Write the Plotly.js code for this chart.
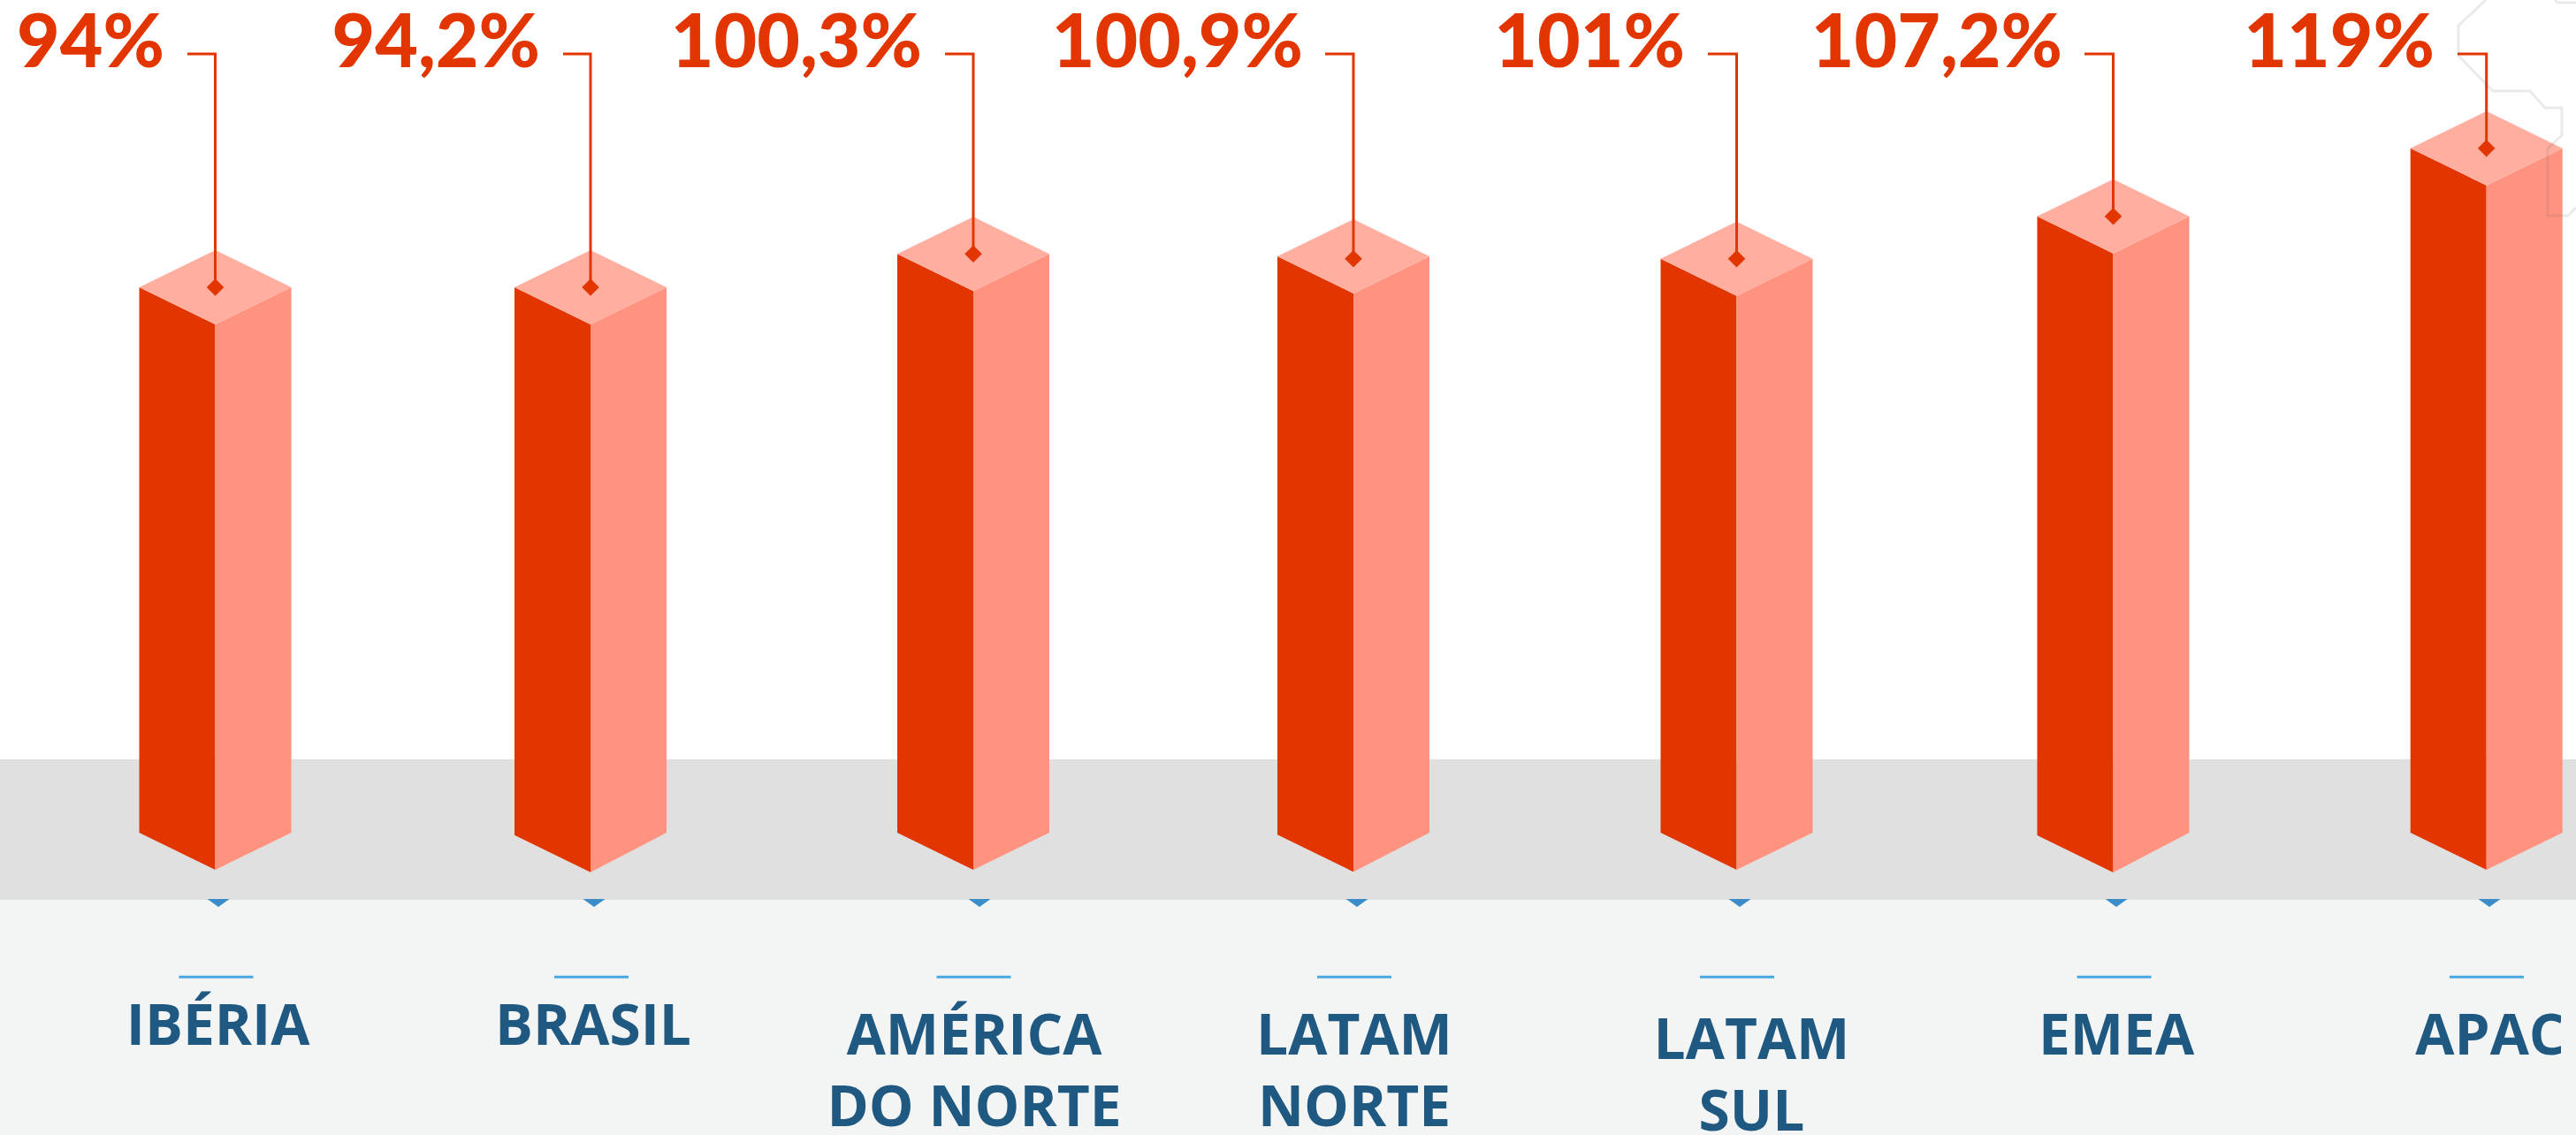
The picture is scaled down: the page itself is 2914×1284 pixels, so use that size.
<!DOCTYPE html>
<html><head><meta charset="utf-8">
<script src="https://cdn.plot.ly/plotly-3.0.1.min.js"></script>
<style>html,body{margin:0;padding:0;background:#fff}#c{width:2914px;height:1284px}</style>
</head><body><div id="c"></div>
<script>
// ---- data ----
const categories = ["IBÉRIA","BRASIL","AMÉRICA<br>DO NORTE","LATAM<br>NORTE","LATAM<br>SUL","EMEA","APAC"];
const values = [94, 94.2, 100.3, 100.9, 101, 107.2, 119];
// the reference's columns are not quite to scale: heights as drawn, in the same % units
const drawnHeights = [94, 94, 99.74, 99.33, 98.92, 106.23, 117.95];
const drawnBases = [0, -0.4, 0, -0.35, 0, -0.45, 0];
const markerHeights = [94, 94, 99.74, 98.92, 98.92, 106.23, 117.95];

// ---- geometry of the picture (pixel layout) ----
const W = 2914, H = 1284, baselinePx = 942, pxPerUnit = 6.564;
const py = p => (baselinePx - p) / pxPerUnit;   // pixel row -> axis value
const dy = 42 / pxPerUnit, hw = 86;
const centres = [243.5, 668, 1101, 1531, 1964.5, 2390.5, 2812.7];
const leaderStart = [212, 637, 1069, 1499, 1932, 2358, 2780];
const valueRight = [186, 611, 1043, 1474, 1906, 2333, 2754];
const triCentres = [247, 672, 1108, 1535, 1968, 2394, 2816];
const ruleCentres = [244.5, 669, 1101.5, 1532, 1965, 2391.5, 2813];
const labelCentres = [246.5, 671, 1102, 1532, 1981.5, 2394, 2817];
const labelBaselines = [1184, 1184, 1195, 1195, 1200, 1195, 1195];
const lineStep = 81;

const fmt = v => String(v).replace('.', ',') + '%';
const poly = (list) => { const x=[], y=[]; list.forEach(pts=>{pts.forEach(q=>{x.push(q[0]);y.push(q[1]);}); x.push(null); y.push(null);}); return {x,y}; };

const left = poly(centres.map((c,i)=>[[c-hw,drawnHeights[i]],[c,drawnHeights[i]-dy],[c,drawnBases[i]-dy],[c-hw,drawnBases[i]],[c-hw,drawnHeights[i]]]));
const right = poly(centres.map((c,i)=>[[c,drawnHeights[i]-dy],[c+hw,drawnHeights[i]],[c+hw,0],[c,drawnBases[i]-dy],[c,drawnHeights[i]-dy]]));
const top_ = poly(centres.map((c,i)=>[[c-hw,drawnHeights[i]],[c,drawnHeights[i]+dy],[c+hw,drawnHeights[i]],[c,drawnHeights[i]-dy],[c-hw,drawnHeights[i]]]));
const tris = poly(triCentres.map(c=>[[c-12.5,py(1017)],[c+12.5,py(1017)],[c,py(1026)],[c-12.5,py(1017)]]));
const rules = poly(ruleCentres.map(c=>[[c-42,py(1105.3)],[c+42,py(1105.3)]]));
const leaders = poly(centres.map((c,i)=>[[leaderStart[i],py(61)],[c,py(61)],[c,markerHeights[i]]]));

const face = (g,color)=>({type:'scatter',mode:'lines',x:g.x,y:g.y,fill:'toself',fillcolor:color,line:{width:0,color:color},hoverinfo:'skip',showlegend:false,connectgaps:false});

const lx=[], ly=[], lt=[];
categories.forEach((c,i)=>c.split('<br>').forEach((s,j)=>{lx.push(labelCentres[i]);ly.push(py(labelBaselines[i]+lineStep*j-18.5));lt.push(s);}));

const traces = [
  face(left,'#E33500'), face(right,'#FF9380'), face(top_,'#FFAEA0'), face(tris,'#3A8DC8'),
  {type:'scatter',mode:'lines',x:rules.x,y:rules.y,line:{width:3,color:'#4AA8E0'},hoverinfo:'skip',showlegend:false},
  {type:'scatter',mode:'lines',x:leaders.x,y:leaders.y,line:{width:3,color:'#E33500'},hoverinfo:'skip',showlegend:false},
  {type:'scatter',mode:'markers',x:centres,y:markerHeights,marker:{symbol:'diamond',size:15,color:'#E33500',line:{width:0}},hoverinfo:'skip',showlegend:false},
  {type:'scatter',mode:'text',x:valueRight,y:valueRight.map(()=>py(55)),text:values.map(fmt),textposition:'middle left',cliponaxis:false,
   textfont:{family:'Lato, sans-serif',size:84,weight:900,color:'#E33500'},hoverinfo:'skip',showlegend:false},
  {type:'scatter',mode:'text',x:lx,y:ly,text:lt,textposition:'middle center',cliponaxis:false,
   textfont:{family:'"Open Sans", sans-serif',size:64,weight:700,color:'#1F5880'},hoverinfo:'skip',showlegend:false}
];

const band = (y0,y1,color,layer)=>({type:'rect',xref:'x',yref:'y',x0:0,x1:W,y0:py(y0),y1:py(y1),fillcolor:color,line:{width:0},layer:layer||'below'});
const decoA = [[2812,0],[2781,29],[2781,63],[2820,103],[2862,103],[2879,122],[2898,122],[2898,153],[2882,168],[2882,244],[2905,244],[2914,235]];
const decoB = [[2890,0],[2893,3],[2914,3]];
const path = pts => 'M'+pts.map(q=>q[0]+','+py(q[1])).join('L');
const deco = pts => ({type:'path',xref:'x',yref:'y',path:path(pts),line:{width:3,color:'rgba(90,90,90,0.13)'},fillcolor:'rgba(0,0,0,0)',layer:'above'});

const layout = {
  width:W,height:H,margin:{l:0,r:0,t:0,b:0},paper_bgcolor:'#fff',plot_bgcolor:'#fff',showlegend:false,
  xaxis:{range:[0,W],visible:false,fixedrange:true},
  yaxis:{range:[py(H),py(0)],visible:false,fixedrange:true},
  shapes:[
    band(859,1018,'#E0E0E0'), band(1018,H,'#F3F5F4'),
    deco(decoA), deco(decoB),
    {type:'rect',xref:'x',yref:'y',x0:2897,x1:W,y0:py(1130),y1:py(1210),fillcolor:'#F3F5F4',line:{width:0},layer:'above'}
  ]
};
Plotly.newPlot('c',traces,layout,{displayModeBar:false,staticPlot:true});
</script></body></html>
